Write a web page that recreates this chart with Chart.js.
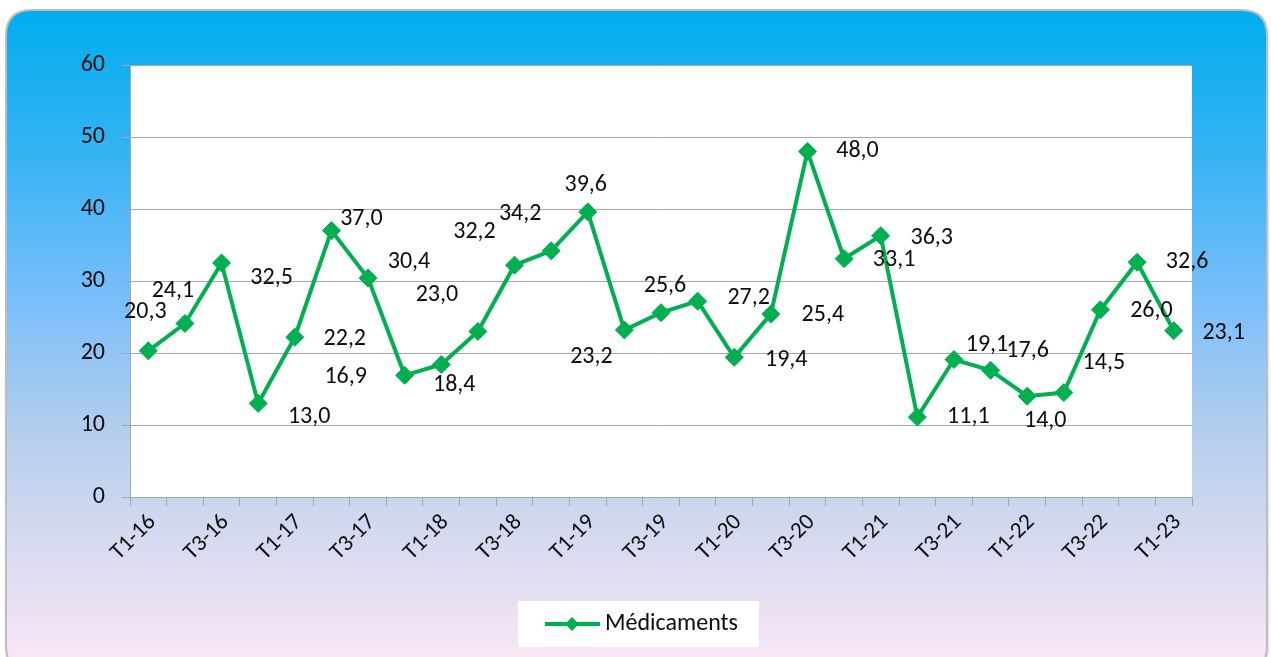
<!DOCTYPE html>
<html>
<head>
<meta charset="utf-8">
<script src="https://cdn.jsdelivr.net/npm/chart.js@4"></script>
<style>
  body { margin: 0; background: #fff; }
  canvas { display: block; }
</style>
</head>
<body>
<canvas id="graficoMedicaments" width="1271" height="657"></canvas>
<script>
const trimestres = [
  "T1-16", "T2-16", "T3-16", "T4-16",
  "T1-17", "T2-17", "T3-17", "T4-17",
  "T1-18", "T2-18", "T3-18", "T4-18",
  "T1-19", "T2-19", "T3-19", "T4-19",
  "T1-20", "T2-20", "T3-20", "T4-20",
  "T1-21", "T2-21", "T3-21", "T4-21",
  "T1-22", "T2-22", "T3-22", "T4-22",
  "T1-23"
];

const medicaments = [
  20.3, 24.1, 32.5, 13.0,
  22.2, 37.0, 30.4, 16.9,
  18.4, 23.0, 32.2, 34.2,
  39.6, 23.2, 25.6, 27.2,
  19.4, 25.4, 48.0, 33.1,
  36.3, 11.1, 19.1, 17.6,
  14.0, 14.5, 26.0, 32.6,
  23.1
];

const yTicks = [0, 10, 20, 30, 40, 50, 60];

// decalage des etiquettes par rapport au point (px)
const decalageEtiquettes = [
  [-3, -39], [-12, -32], [50, 15], [51, 14],
  [50, 2], [30, -12], [41, -16], [-59, 2],
  [13, 20], [-41, -36], [-40, -33], [-31, -37],
  [-2, -27], [-33, 27], [4, -27], [51, -3],
  [52, 3], [52, 1], [50, 0], [50, 1],
  [51, 2], [51, 0], [33, -14], [37, -19],
  [18, 25], [40, -30], [51, 1], [50, 0],
  [50, 2]
];

const VERT = "#00b050";
const POLICE = "Calibri, Carlito, Lato, sans-serif";

const fondCadre = {
  id: "fondCadre",
  beforeDraw(chart) {
    const ctx = chart.ctx;
    const x = 6, y = 10, w = 1261, h = 662, r = 26;
    ctx.save();
    ctx.fillStyle = "#ffffff";
    ctx.fillRect(0, 0, chart.width, chart.height);

    const grad = ctx.createLinearGradient(0, y, 0, 657);
    grad.addColorStop(0, "#00adef");
    grad.addColorStop(0.22, "#35b3f3");
    grad.addColorStop(0.45, "#7bbefa");
    grad.addColorStop(0.66, "#b6cfec");
    grad.addColorStop(0.85, "#dcdcf0");
    grad.addColorStop(1, "#f8e6f6");

    ctx.beginPath();
    ctx.moveTo(x + r, y);
    ctx.lineTo(x + w - r, y);
    ctx.quadraticCurveTo(x + w, y, x + w, y + r);
    ctx.lineTo(x + w, y + h - r);
    ctx.quadraticCurveTo(x + w, y + h, x + w - r, y + h);
    ctx.lineTo(x + r, y + h);
    ctx.quadraticCurveTo(x, y + h, x, y + h - r);
    ctx.lineTo(x, y + r);
    ctx.quadraticCurveTo(x, y, x + r, y);
    ctx.closePath();
    ctx.shadowColor = "rgba(0,0,0,0.25)";
    ctx.shadowBlur = 3;
    ctx.shadowOffsetX = 1;
    ctx.shadowOffsetY = 1;
    ctx.fillStyle = grad;
    ctx.fill();
    ctx.shadowColor = "transparent";
    ctx.lineWidth = 2;
    ctx.strokeStyle = "#bdbdbd";
    ctx.stroke();

    const a = chart.chartArea;
    ctx.fillStyle = "#ffffff";
    ctx.fillRect(a.left, a.top, a.right - a.left, a.bottom - a.top);
    ctx.restore();
  }
};

const etiquettes = {
  id: "etiquettes",
  afterDatasetsDraw(chart) {
    const ctx = chart.ctx;
    const meta = chart.getDatasetMeta(0);
    ctx.save();
    ctx.font = "24px " + POLICE;
    ctx.fillStyle = "#0d0d0d";
    ctx.textAlign = "center";
    ctx.textBaseline = "middle";
    meta.data.forEach((pt, i) => {
      const d = decalageEtiquettes[i];
      const texte = medicaments[i].toFixed(1).replace(".", ",");
      ctx.fillText(texte, pt.x + d[0], pt.y + d[1]);
    });
    ctx.restore();
  }
};

const legende = {
  id: "legende",
  afterDraw(chart) {
    const ctx = chart.ctx;
    const ds = chart.data.datasets[0];
    ctx.save();
    ctx.fillStyle = "#ffffff";
    ctx.fillRect(518, 601, 241, 46);
    ctx.strokeStyle = ds.borderColor;
    ctx.lineWidth = 4;
    ctx.beginPath();
    ctx.moveTo(545, 624);
    ctx.lineTo(600, 624);
    ctx.stroke();
    ctx.fillStyle = ds.borderColor;
    ctx.beginPath();
    ctx.moveTo(572, 617);
    ctx.lineTo(579, 624);
    ctx.lineTo(572, 631);
    ctx.lineTo(565, 624);
    ctx.closePath();
    ctx.fill();
    ctx.fillStyle = "#0d0d0d";
    ctx.font = "24px " + POLICE;
    ctx.textAlign = "left";
    ctx.textBaseline = "middle";
    ctx.fillText(ds.label, 605, 624);
    ctx.restore();
  }
};

const graficoMedicaments = new Chart(document.getElementById("graficoMedicaments"), {
  type: "line",
  data: {
    labels: trimestres,
    datasets: [{
      label: "Médicaments",
      data: medicaments,
      borderColor: VERT,
      backgroundColor: VERT,
      borderWidth: 4,
      tension: 0,
      pointStyle: "rectRot",
      pointRadius: 9,
      pointBorderWidth: 1,
      pointBackgroundColor: VERT,
      pointBorderColor: VERT
    }]
  },
  options: {
    responsive: false,
    animation: false,
    layout: { padding: { top: 65, right: 79, left: 0, bottom: 0 } },
    plugins: {
      legend: { display: false },
      tooltip: { enabled: false }
    },
    scales: {
      x: {
        offset: true,
        afterFit(scale) { scale.height = 160; },
        grid: {
          offset: true,
          drawOnChartArea: false,
          drawTicks: true,
          tickLength: 9,
          color: "#a6a6a6"
        },
        border: { color: "#a6a6a6", width: 1 },
        ticks: {
          autoSkip: false,
          maxRotation: 45,
          minRotation: 45,
          padding: 3,
          labelOffset: 4,
          color: "#0d0d0d",
          font: { family: POLICE, size: 23 },
          callback: (val, i) => (i % 2 === 0 ? trimestres[i] : "")
        }
      },
      y: {
        min: yTicks[0],
        max: yTicks[yTicks.length - 1],
        afterFit(scale) { scale.width = 130; },
        afterBuildTicks(scale) { scale.ticks = yTicks.map(v => ({ value: v })); },
        grid: {
          color: "#a6a6a6",
          tickLength: 8,
          lineWidth: 1
        },
        border: { color: "#a6a6a6", width: 1 },
        ticks: {
          padding: 17,
          color: "#0d0d0d",
          font: { family: POLICE, size: 24 }
        }
      }
    }
  },
  plugins: [fondCadre, etiquettes, legende]
});
</script>
</body>
</html>
